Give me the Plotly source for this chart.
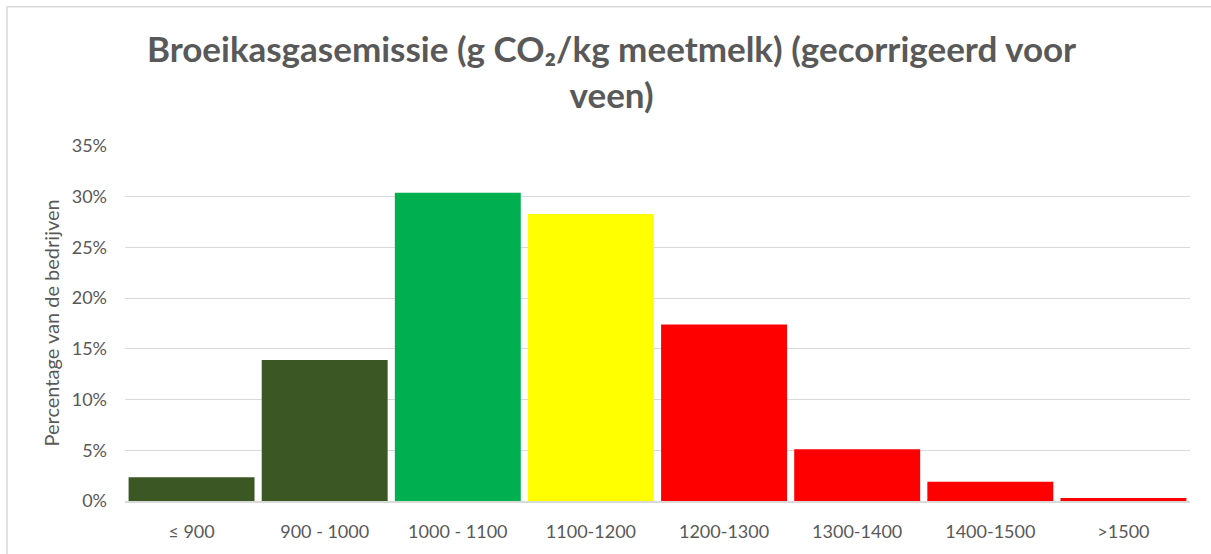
import plotly.graph_objects as go

categories = ["≤ 900", "900 - 1000", "1000 - 1100", "1100-1200", "1200-1300", "1300-1400", "1400-1500", ">1500"]
values = [0.0235, 0.139, 0.304, 0.283, 0.174, 0.051, 0.019, 0.003]
colors = ["#3B5724", "#3B5724", "#00B050", "#FFFF00", "#FF0000", "#FF0000", "#FF0000", "#FF0000"]
y_ticks = [0, 0.05, 0.10, 0.15, 0.20, 0.25, 0.30, 0.35]
title_text = "Broeikasgasemissie (g CO₂/kg meetmelk) (gecorrigeerd voor<br>veen)"
y_title = "Percentage van de bedrijven"

L, R, T, B = 125, 1211 - 1190, 146, 554 - 503
W, H = 1211 - L - R, 554 - T - B

fig = go.Figure(go.Bar(
    x=categories, y=values,
    marker=dict(color=colors, line=dict(width=0)),
    hoverinfo="x+y",
))

fig.update_layout(
    width=1211, height=554,
    margin=dict(l=L, r=R, t=T, b=B, pad=0),
    paper_bgcolor="white", plot_bgcolor="white",
    bargap=0.054,
    showlegend=False,
    font=dict(family="Lato, 'Open Sans', sans-serif", color="#595959"),
    title=dict(text=title_text, x=0.505, xanchor="center", xref="container",
               y=1 - 62 / 554, yanchor="middle", yref="container",
               font=dict(family="Lato, 'Open Sans', sans-serif", size=35, color="#595959", weight="bold")),
    xaxis=dict(type="category", showgrid=False, showline=True, linecolor="#D9D9D9", linewidth=1.5,
               ticks="", ticklabelstandoff=14, tickfont=dict(size=18, color="#595959")),
    yaxis=dict(range=[0, 0.35], tickvals=y_ticks, tickformat=".0%", showgrid=True,
               gridcolor="#D9D9D9", gridwidth=1.2, zeroline=False, showline=False, ticks="",
               ticklabelstandoff=17, tickfont=dict(size=18, color="#595959")),
    annotations=[dict(text=y_title, xref="paper", yref="paper", x=(50 - L) / W, y=0.5,
                      xanchor="center", yanchor="middle", textangle=-90, showarrow=False,
                      font=dict(size=20, color="#595959"))],
    shapes=[dict(type="rect", xref="paper", yref="paper",
                 x0=(7 - L) / W, x1=(1220 - L) / W, y0=(554 - B - 560) / H, y1=(554 - B - 6) / H,
                 line=dict(color="#D9D9D9", width=1.5), fillcolor="rgba(0,0,0,0)", layer="below")],
)

fig.write_html("out.html", config={"displayModeBar": False},
               post_script="document.body.style.margin='0';document.body.style.overflow='hidden';")
